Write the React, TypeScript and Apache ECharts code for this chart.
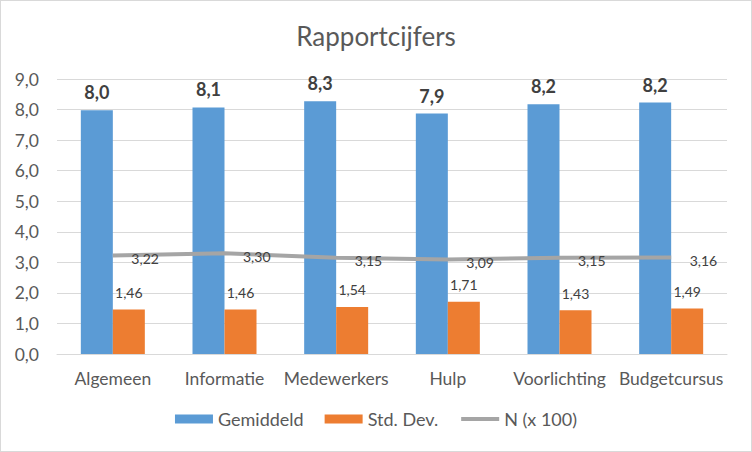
import React, { useEffect, useRef } from "react";
import * as echarts from "echarts";

const categories = ["Algemeen", "Informatie", "Medewerkers", "Hulp", "Voorlichting", "Budgetcursus"];
const gemiddeld = [7.98, 8.07, 8.27, 7.87, 8.17, 8.23];
const stdDev = [1.46, 1.46, 1.54, 1.71, 1.43, 1.49];
const nX100 = [3.22, 3.3, 3.15, 3.09, 3.15, 3.16];
const yTicks = { min: 0, max: 9, interval: 1 };

const FONT = "Lato, 'Open Sans', sans-serif";
const fmt1 = (v: number) => v.toFixed(1).replace(".", ",");
const fmt2 = (v: number) => v.toFixed(2).replace(".", ",");

export default function App() {
  const ref = useRef<HTMLDivElement>(null);
  useEffect(() => {
    if (!ref.current) return;
    const chart = echarts.init(ref.current, undefined, { renderer: "svg" });
    chart.setOption({
      animation: false,
      backgroundColor: "#ffffff",
      textStyle: { fontFamily: FONT },
      title: {
        text: "Rapportcijfers",
        left: "center",
        top: 17,
        textStyle: { fontFamily: FONT, fontSize: 26, fontWeight: "normal", color: "#595959" },
      },
      legend: {
        bottom: 18,
        left: "center",
        itemWidth: 38,
        itemHeight: 9,
        itemGap: 21,
        textStyle: { fontFamily: FONT, fontSize: 18, color: "#595959" },
        data: [
          { name: "Gemiddeld", icon: "rect" },
          { name: "Std. Dev.", icon: "rect" },
          { name: "N (x 100)", lineStyle: { width: 4, color: "#A5A5A5" } },
        ],
      },
      grid: { left: 56, right: 24, top: 78, bottom: 97 },
      xAxis: {
        type: "category",
        data: categories,
        axisTick: { show: false },
        axisLine: { lineStyle: { color: "#D9D9D9", width: 1 } },
        axisLabel: { interval: 0, fontFamily: FONT, fontSize: 17.5, color: "#595959", margin: 15 },
      },
      yAxis: {
        type: "value",
        min: yTicks.min,
        max: yTicks.max,
        interval: yTicks.interval,
        axisLine: { show: false },
        axisTick: { show: false },
        splitLine: { lineStyle: { color: "#D9D9D9", width: 1 } },
        axisLabel: {
          fontFamily: FONT,
          fontSize: 17.5,
          color: "#595959",
          margin: 18,
          formatter: (v: number) => fmt1(v),
        },
      },
      series: [
        {
          name: "Gemiddeld",
          type: "bar",
          data: gemiddeld,
          barWidth: 32,
          barGap: "0%",
          itemStyle: { color: "#5B9BD5" },
          label: {
            show: true,
            position: "top",
            distance: 9,
            fontFamily: FONT,
            fontSize: 18,
            fontWeight: "bold",
            color: "#404040",
            formatter: (p: any) => fmt1(p.value),
          },
        },
        {
          name: "Std. Dev.",
          type: "bar",
          data: stdDev,
          barWidth: 32,
          barGap: "0%",
          itemStyle: { color: "#ED7D31" },
          label: {
            show: true,
            position: "top",
            distance: 10,
            fontFamily: FONT,
            fontSize: 14,
            color: "#404040",
            formatter: (p: any) => fmt2(p.value),
          },
        },
        {
          name: "N (x 100)",
          type: "line",
          data: nX100,
          symbol: "circle",
          symbolSize: 1,
          showSymbol: true,
          lineStyle: { color: "#A5A5A5", width: 4 },
          itemStyle: { color: "rgba(0,0,0,0)" },
          label: {
            show: true,
            position: "right",
            distance: 18,
            offset: [0, 3],
            fontFamily: FONT,
            fontSize: 14,
            color: "#404040",
            formatter: (p: any) => fmt2(p.value),
          },
          z: 5,
        },
      ],
    });
    return () => chart.dispose();
  }, []);
  return (
    <div
      style={{
        position: "fixed",
        left: 0,
        top: 0,
        width: 752,
        height: 452,
        boxSizing: "border-box",
        border: "1px solid #D9D9D9",
        background: "#fff",
      }}
    >
      <div ref={ref} style={{ width: 750, height: 450 }} />
    </div>
  );
}
